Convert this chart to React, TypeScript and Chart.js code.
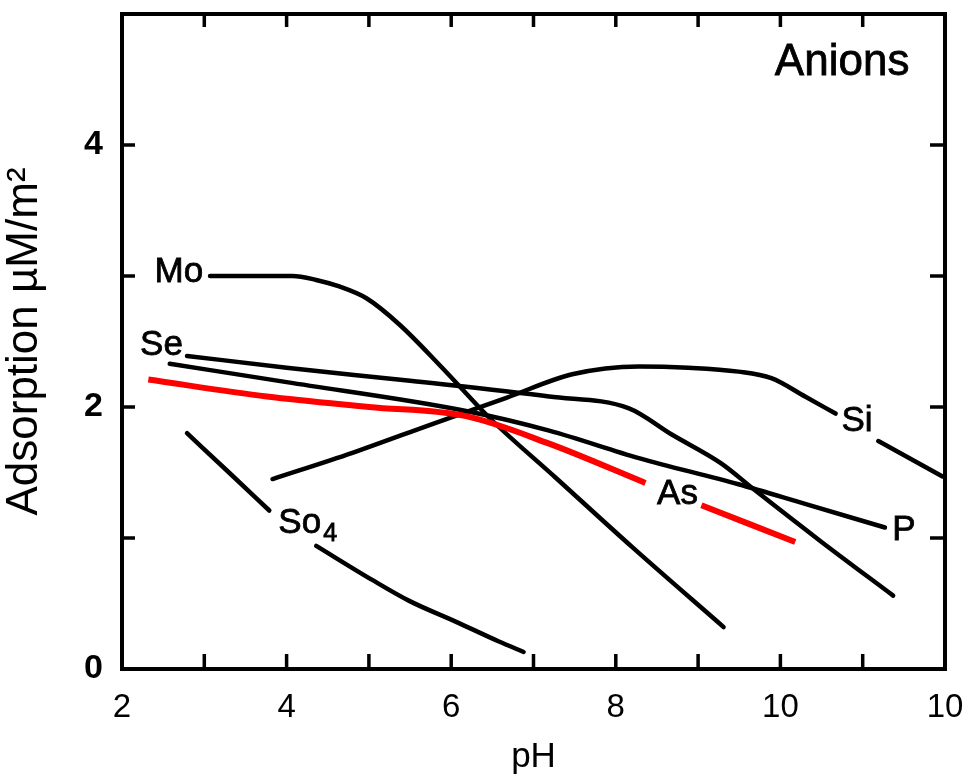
import React, { useEffect, useRef } from "react";
import { Chart, registerables } from "chart.js";
Chart.register(...registerables);

// Axis ticks
const xTickValues = [2, 4, 6, 8, 10, 12];
const xTickLabels = ["2", "4", "6", "8", "10", "10"];
const yTickValues = [0, 2, 4];
const yTickLabels = ["0", "2", "4"];

// Series (pH vs adsorption µM/m²); null = gap left for a label
const asPH = [2.32, 3.76, 5.0, 6.18, 7.19, 8.36, 8.7, 9.04, 10.18];
const asAds = [2.21, 2.08, 2.0, 1.93, 1.72, 1.42, null, 1.25, 0.97];

const moPH = [3.07, 3.6, 4.07, 4.36, 4.64, 4.97, 5.37, 5.89, 6.46, 7.27, 8.2, 9.31];
const moAds = [3.0, 3.0, 3.0, 2.97, 2.92, 2.83, 2.63, 2.3, 1.92, 1.46, 0.93, 0.32];

const sePH = [2.79, 4.0, 5.5, 7.19, 8.16, 8.68, 9.28, 9.7, 10.5, 11.37];
const seAds = [2.39, 2.3, 2.2, 2.08, 1.99, 1.79, 1.57, 1.36, 0.97, 0.56];

const pPH = [2.58, 4.0, 6.18, 7.19, 8.28, 9.49, 10.3, 11.27];
const pAds = [2.33, 2.19, 1.97, 1.82, 1.61, 1.41, 1.26, 1.08];

const siPH = [3.83, 4.8, 5.77, 6.67, 7.47, 8.28, 8.88, 9.49, 9.89, 10.3, 10.67, 10.9, 11.19, 11.97];
const siAds = [1.45, 1.65, 1.87, 2.07, 2.25, 2.31, 2.3, 2.27, 2.22, 2.08, 1.95, null, 1.74, 1.47];

const so4PH = [2.79, 3.3, 3.79, 4.05, 4.36, 5.04, 5.49, 6.06, 6.58, 6.88];
const so4Ads = [1.8, 1.5, 1.21, null, 0.94, 0.68, 0.52, 0.36, 0.21, 0.13];

// Curve labels (anchor in data units)
const labelTexts = ["Mo", "Se", "As", "P", "Si", "So"];
const labelPH = [2.69, 2.48, 8.75, 11.5, 10.93, 4.16];
const labelAds = [3.03, 2.47, 1.33, 1.06, 1.89, 1.11];
const so4SubText = "4";
const so4SubPH = 4.53;
const so4SubAds = 1.03;
const panelTitle = "Anions";
const panelTitlePH = 10.75;
const panelTitleAds = 4.63;

const FONT = "'Liberation Sans', Arial, Helvetica, sans-serif";

function pts(xs: number[], ys: (number | null)[]) {
  return xs.map((x, i) => ({ x, y: ys[i] }));
}

function boldText(ctx: any, txt: string, x: number, y: number) {
  ctx.fillText(txt, x, y);
  ctx.strokeText(txt, x, y);
}

const framePlugin = {
  id: "frameAndLabels",
  afterDatasetsDraw(chart: any) {
    const { ctx, chartArea, scales } = chart;
    const { left, right, top, bottom } = chartArea;
    const xs = scales.x;
    const ys = scales.y;
    ctx.save();
    ctx.strokeStyle = "#000";
    ctx.lineWidth = 4;
    ctx.strokeRect(left, top, right - left, bottom - top);
    ctx.lineWidth = 3.5;
    ctx.beginPath();
    xs.ticks.forEach((t: any) => {
      const px = xs.getPixelForValue(t.value);
      ctx.moveTo(px, bottom);
      ctx.lineTo(px, bottom - 15);
      ctx.moveTo(px, top);
      ctx.lineTo(px, top + 13);
    });
    ys.ticks.forEach((t: any) => {
      const py = ys.getPixelForValue(t.value);
      ctx.moveTo(left, py);
      ctx.lineTo(left + 13, py);
      ctx.moveTo(right, py);
      ctx.lineTo(right - 15, py);
    });
    ctx.stroke();

    ctx.fillStyle = "#000";
    ctx.lineWidth = 0.8;
    ctx.textAlign = "center";
    ctx.textBaseline = "middle";
    ctx.font = `35px ${FONT}`;
    labelTexts.forEach((txt, i) => {
      boldText(ctx, txt, xs.getPixelForValue(labelPH[i]), ys.getPixelForValue(labelAds[i]));
    });
    ctx.font = `25px ${FONT}`;
    boldText(ctx, so4SubText, xs.getPixelForValue(so4SubPH), ys.getPixelForValue(so4SubAds));
    ctx.font = `44px ${FONT}`;
    boldText(ctx, panelTitle, xs.getPixelForValue(panelTitlePH), ys.getPixelForValue(panelTitleAds));
    ctx.restore();
  },
};

export default function App() {
  const ref = useRef<HTMLCanvasElement>(null);
  useEffect(() => {
    const black = (label: string, data: any[]) => ({
      label,
      data,
      showLine: true,
      borderColor: "#000",
      backgroundColor: "#000",
      borderWidth: 4.5,
      borderCapStyle: "round" as const,
      pointRadius: 0,
      spanGaps: false,
      cubicInterpolationMode: "monotone" as const,
    });
    const chart = new Chart(ref.current!, {
      type: "scatter",
      data: {
        datasets: [
          {
            label: "As",
            data: pts(asPH, asAds),
            showLine: true,
            borderColor: "#ff0000",
            backgroundColor: "#ff0000",
            borderWidth: 6,
            pointRadius: 0,
            spanGaps: false,
            cubicInterpolationMode: "monotone",
          },
          black("Mo", pts(moPH, moAds)),
          black("Se", pts(sePH, seAds)),
          black("P", pts(pPH, pAds)),
          black("Si", pts(siPH, siAds)),
          black("SO4", pts(so4PH, so4Ads)),
        ],
      },
      options: {
        responsive: false,
        animation: false,
        layout: { padding: { top: 14, right: 23, left: 0, bottom: 0 } },
        plugins: { legend: { display: false }, tooltip: { enabled: false } },
        scales: {
          x: {
            type: "linear",
            min: 2,
            max: 12,
            grid: { display: false, drawTicks: false },
            border: { display: false },
            ticks: {
              stepSize: 1,
              autoSkip: false,
              maxRotation: 0,
              padding: 19,
              color: "#000",
              font: { family: FONT, size: 33 },
              callback: (v: any) => {
                const i = xTickValues.indexOf(Number(v));
                return i >= 0 ? xTickLabels[i] : "";
              },
            },
            title: {
              display: true,
              text: "pH",
              color: "#000",
              font: { family: FONT, size: 35 },
              padding: { top: 0, bottom: -2 },
            },
            afterFit: (s: any) => {
              s.height = 107;
              s.paddingLeft = 0;
              s.paddingRight = 0;
            },
          },
          y: {
            type: "linear",
            min: 0,
            max: 5,
            grid: { display: false, drawTicks: false },
            border: { display: false },
            ticks: {
              stepSize: 1,
              autoSkip: false,
              padding: 19,
              color: "#000",
              font: { family: FONT, size: 34, weight: "bold" },
              callback: (v: any) => {
                const i = yTickValues.indexOf(Number(v));
                return i >= 0 ? yTickLabels[i] : "";
              },
            },
            title: {
              display: true,
              text: "Adsorption µM/m²",
              color: "#000",
              font: { family: FONT, size: 44 },
              padding: { top: -2, bottom: 0 },
            },
            afterFit: (s: any) => {
              s.width = 122;
              s.paddingTop = 0;
              s.paddingBottom = 0;
            },
          },
        },
      },
      plugins: [framePlugin],
    });
    return () => chart.destroy();
  }, []);
  return (
    <div style={{ position: "absolute", left: 0, top: 0, width: 968, height: 776, background: "#fff" }}>
      <canvas ref={ref} width={968} height={776} style={{ display: "block" }} />
    </div>
  );
}
